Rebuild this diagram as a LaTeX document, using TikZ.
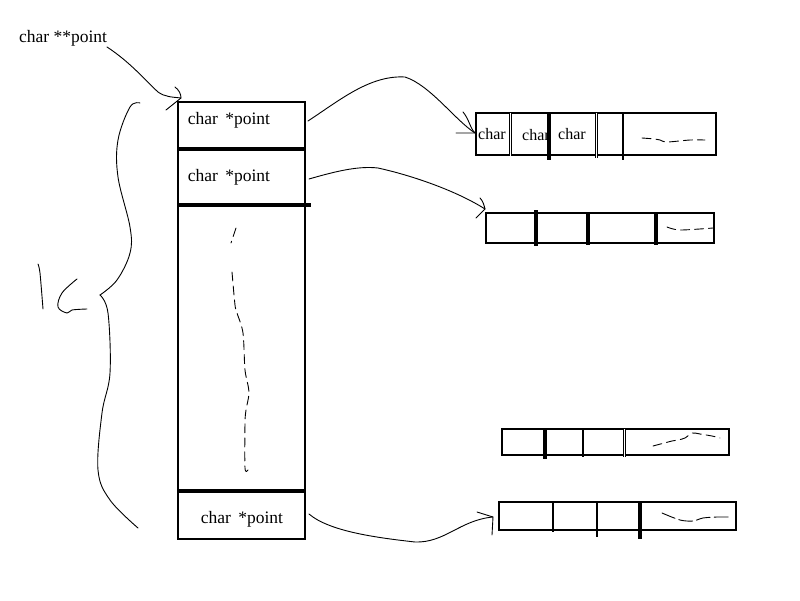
\documentclass[tikz,border=0pt]{standalone}
\usepackage{fontspec}
\setmainfont{Liberation Serif}
\begin{document}
\begin{tikzpicture}[x=1pt,y=-1pt,
  lbl/.style={inner sep=0pt,font=\fontsize{17.5}{20}\selectfont},
  small/.style={inner sep=0pt,font=\fontsize{16}{19}\selectfont},
  frame/.style={draw,line width=2pt},
  sep/.style={line width=3.5pt},
  thinsep/.style={line width=2.5pt},
  dbl/.style={line width=0.9pt,double,double distance=1.6pt},
  hand/.style={line width=0.9pt,line cap=round,line join=round},
  dash hand/.style={hand,dash pattern=on 9pt off 5pt}]
\useasboundingbox (0,0) rectangle (800,600);

% title label
\node[lbl] (pp) at (63,38) {char **point};
\coordinate (s0) at (107,47);

% tall box of pointers
\draw[frame] (178,102) rectangle (305,539);
\draw[sep] (178,149) -- (306,149);
\draw[sep] (178,205) -- (311,205);
\draw[sep] (178,491) -- (306,491);
\node[lbl] (p1) at (229,120) {char\hspace{3pt} *point};
\node[lbl] (p2) at (229,177) {char\hspace{3pt} *point};
\node[lbl] (p3) at (242,519) {char\hspace{3pt} *point};
\coordinate (top) at (181,98);
\coordinate (s1) at (308,121);
\coordinate (s2) at (309,179);
\coordinate (s3) at (309,514);

% dashed vertical in tall box
\draw[dash hand] (236,228) -- (231,243);
\draw[dash hand] plot[smooth] coordinates {(232,272) (235,305) (237,313) (243,333) (245,370) (249,392) (246,410) (245,423) (245,468) (248,470)};

% array 1
\draw[frame] (476,113) rectangle (716,155);
\draw[dbl] (510.5,113) -- (510.5,156);
\draw[sep] (549,113) -- (549,160);
\draw[dbl] (596.5,113) -- (596.5,158);
\draw[thinsep] (623,113) -- (623,160);
\node[small] (c1) at (492,134) {char};
\node[small] (c2) at (536,135) {char};
\node[small] (c3) at (572,134) {char};
\draw[dash hand] plot[smooth] coordinates {(642,138) (655,139) (660,140) (667,142) (690,140) (705,140)};
\coordinate (a1) at (475,133);

% array 2
\draw[frame] (486,213) rectangle (714,243);
\draw[sep] (536,210) -- (536,246);
\draw[sep] (588,213) -- (588,245);
\draw[sep] (656,213) -- (656,245);
\draw[dash hand] plot[smooth] coordinates {(667,227) (680,230) (713,228)};
\coordinate (a2) at (485,209);

% array 3
\draw[frame] (502,429) rectangle (729,455);
\draw[sep] (545,429) -- (545,459);
\draw[thinsep] (583,429) -- (583,457);
\draw[dbl] (624.5,429) -- (624.5,457);
\draw[dash hand] plot[smooth] coordinates {(653,446) (672,441) (678,440) (685,438) (692,433) (700,434) (712,436) (720,438)};

% array 4
\draw[frame] (499,502) rectangle (736,530);
\draw[thinsep] (553,502) -- (553,532);
\draw[thinsep] (597,502) -- (597,537);
\draw[sep] (640,502) -- (640,539);
\draw[dash hand,dash pattern=on 14pt off 4pt] plot[smooth] coordinates {(662,513) (680,520) (693,521) (703,518) (717,517) (732,517)};
\coordinate (a4) at (493,517);

% connectors
\draw[hand] (s0) .. controls (130,62) and (145,80) .. (158,92) .. controls (165,97) and (172,97) .. (top);
\draw[hand] (175,87) .. controls (179,90) and (181,94) .. (top) -- (166,110);

\draw[hand] (s1) .. controls (340,100) and (370,75) .. (405,77) .. controls (430,85) and (455,120) .. (a1);
\draw[hand] (463,112) .. controls (469,119) and (470,128) .. (a1) -- (456,133);

\draw[hand] (s2) .. controls (340,170) and (360,166) .. (378,168) .. controls (410,175) and (455,190) .. (a2);
\draw[hand] (480,198) .. controls (483,201) and (484,205) .. (a2) -- (476,218);

\draw[hand] (s3) .. controls (330,532) and (380,538) .. (415,542) .. controls (445,543) and (460,520) .. (a4);
\draw[hand] (477,512) -- (a4) -- (492,535);

% left brace
\draw[hand] plot[smooth,tension=0.6] coordinates {(140,103) (130,107) (118,140) (118,177) (130,227) (130,253) (117,280) (100,295)};
\draw[hand] plot[smooth,tension=0.6] coordinates {(100,295) (108,313) (110,373) (102,413) (98,470) (110,500) (138,528)};
\draw[hand] plot[smooth,tension=0.6] coordinates {(77,279) (62,293) (58,307) (67,313) (72,310) (87,309)};
\draw[hand] plot[smooth] coordinates {(38,264) (40,273) (43,309)};
\end{tikzpicture}
\end{document}
